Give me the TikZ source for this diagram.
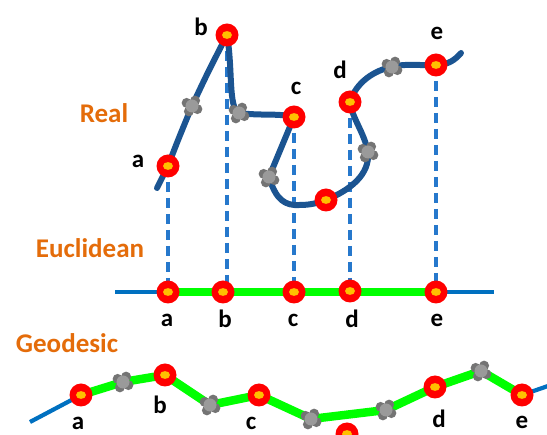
\documentclass[tikz,border=0pt]{standalone}
\usepackage{fontspec}
\setmainfont{Carlito}
\definecolor{lblorange}{HTML}{E46C0A}
\definecolor{curveblue}{HTML}{1B5491}
\definecolor{dashblue}{HTML}{2678CC}
\definecolor{lineblue}{HTML}{0070C0}
\definecolor{brightgreen}{HTML}{00FF00}
\definecolor{dotred}{HTML}{FF0000}
\definecolor{dotyellow}{HTML}{FFC000}
\definecolor{markdark}{HTML}{747474}
\definecolor{marklight}{HTML}{9A9A9A}
\tikzset{
  realcurve/.style={draw=curveblue,line width=6pt,line cap=round,line join=round},
  proj/.style={draw=dashblue,line width=3.6pt,dash pattern=on 10pt off 6pt},
  axisline/.style={draw=lineblue,line width=4.2pt},
  pathgreen/.style={draw=brightgreen,line width=8.5pt,line join=round},
  region/.style={text=lblorange,font=\fontsize{27}{29}\selectfont\bfseries,anchor=base,inner sep=1pt},
  letter/.style={text=black,font=\fontsize{25}{27}\selectfont\bfseries,anchor=base,inner sep=1pt},
  reddot/.pic={\fill[dotred] (0,0) circle (11.5);\fill[dotyellow] (0,0) ellipse (5 and 3.9);},
  graymark/.pic={
    \foreach \a in {30,120,210,300}{\fill[markdark] (\a:6.2) circle (5);}
    \fill[marklight] (0,0) circle (6.5);
  }
}
\begin{document}
\begin{tikzpicture}[x=1pt,y=-1pt]
\useasboundingbox (0,0) rectangle (547,435);
% region labels
\node[region] (tReal) at (104,123) {Real};
\node[region] (tEuc) at (90,258) {Euclidean};
\node[region] (tGeo) at (67,353) {Geodesic};
% real curve points
\coordinate (s) at (157,188);
\coordinate (ra) at (168,166);
\coordinate (g1) at (192,106);
\coordinate (rb) at (227,35);
\coordinate (g2) at (239,113);
\coordinate (rc) at (294,117);
\coordinate (g3) at (269,177);
\coordinate (rm) at (326,200);
\coordinate (g4) at (368,152);
\coordinate (rd) at (350,102);
\coordinate (g5) at (392,67);
\coordinate (re) at (436,65);
\coordinate (t) at (461,53);
% euclidean points
\coordinate (eL) at (115,292);
\coordinate (ea) at (168,292);
\coordinate (eb) at (223,292);
\coordinate (ec) at (294,292);
\coordinate (ed) at (350,291);
\coordinate (ee) at (436,292);
\coordinate (eR) at (494,292);
% projections
\draw[proj] (ra) -- (ra |- ea);
\draw[proj] (rb) -- (rb |- eb);
\draw[proj] (rc) -- (rc |- ec);
\draw[proj] (rd) -- (rd |- ed);
\draw[proj] (re) -- (re |- ee);
% real curve
\draw[realcurve] (s) -- (ra) .. controls (178,140) .. (g1) .. controls (208,72) .. (rb)
  .. controls (233,70) and (228,108) .. (g2) .. controls (262,116) and (278,113) .. (rc)
  -- (g3) .. controls (276,200) and (285,206) .. (300,205) .. controls (310,205) and (318,203) .. (rm)
  .. controls (350,190) and (370,175) .. (g4) .. controls (364,132) and (352,118) .. (rd)
  .. controls (356,82) and (375,70) .. (g5) .. controls (405,63) and (425,66) .. (re)
  .. controls (448,65) and (455,60) .. (t);
% euclidean line
\draw[axisline] (eL) -- (eR);
\draw[pathgreen] (ea) -- (ee);
% geodesic
\coordinate (gs) at (30,422);
\coordinate (ga) at (81,395);
\coordinate (h1) at (123,382);
\coordinate (gb) at (165,375);
\coordinate (h2) at (210,405);
\coordinate (gc) at (259,395);
\coordinate (h3) at (311,419);
\coordinate (h4) at (386,410);
\coordinate (gd) at (435,387);
\coordinate (h5) at (481,371);
\coordinate (ge) at (522,395);
\coordinate (gt) at (548,386);
\coordinate (gm) at (347,434);
\draw[axisline] (gs) -- (ga);
\draw[axisline] (ge) -- (gt);
\draw[pathgreen] (ga) -- (h1) -- (gb) -- (h2) -- (gc) -- (h3) -- (h4) -- (gd) -- (h5) -- (ge);
% markers
\foreach \p in {g1,g2,g3,g4,g5,h1,h2,h3,h4,h5} {\pic at (\p) {graymark};}
\foreach \p in {ra,rb,rc,rm,rd,re,ea,eb,ec,ed,ee,ga,gb,gc,gd,ge,gm} {\pic at (\p) {reddot};}
% letters real
\node[letter] (la1) at (138,168) {a};
\node[letter] (lb1) at (201,36) {b};
\node[letter] (lc1) at (296,95) {c};
\node[letter] (ld1) at (340,79) {d};
\node[letter] (le1) at (437,40) {e};
% letters euclidean
\node[letter] (la2) at (167,327) {a};
\node[letter] (lb2) at (225,328) {b};
\node[letter] (lc2) at (293,327) {c};
\node[letter] (ld2) at (352,328) {d};
\node[letter] (le2) at (437,327) {e};
% letters geodesic
\node[letter] (la3) at (78,430) {a};
\node[letter] (lb3) at (160,414) {b};
\node[letter] (lc3) at (251,430) {c};
\node[letter] (ld3) at (439,428) {d};
\node[letter] (le3) at (522,429) {e};
\end{tikzpicture}
\end{document}
